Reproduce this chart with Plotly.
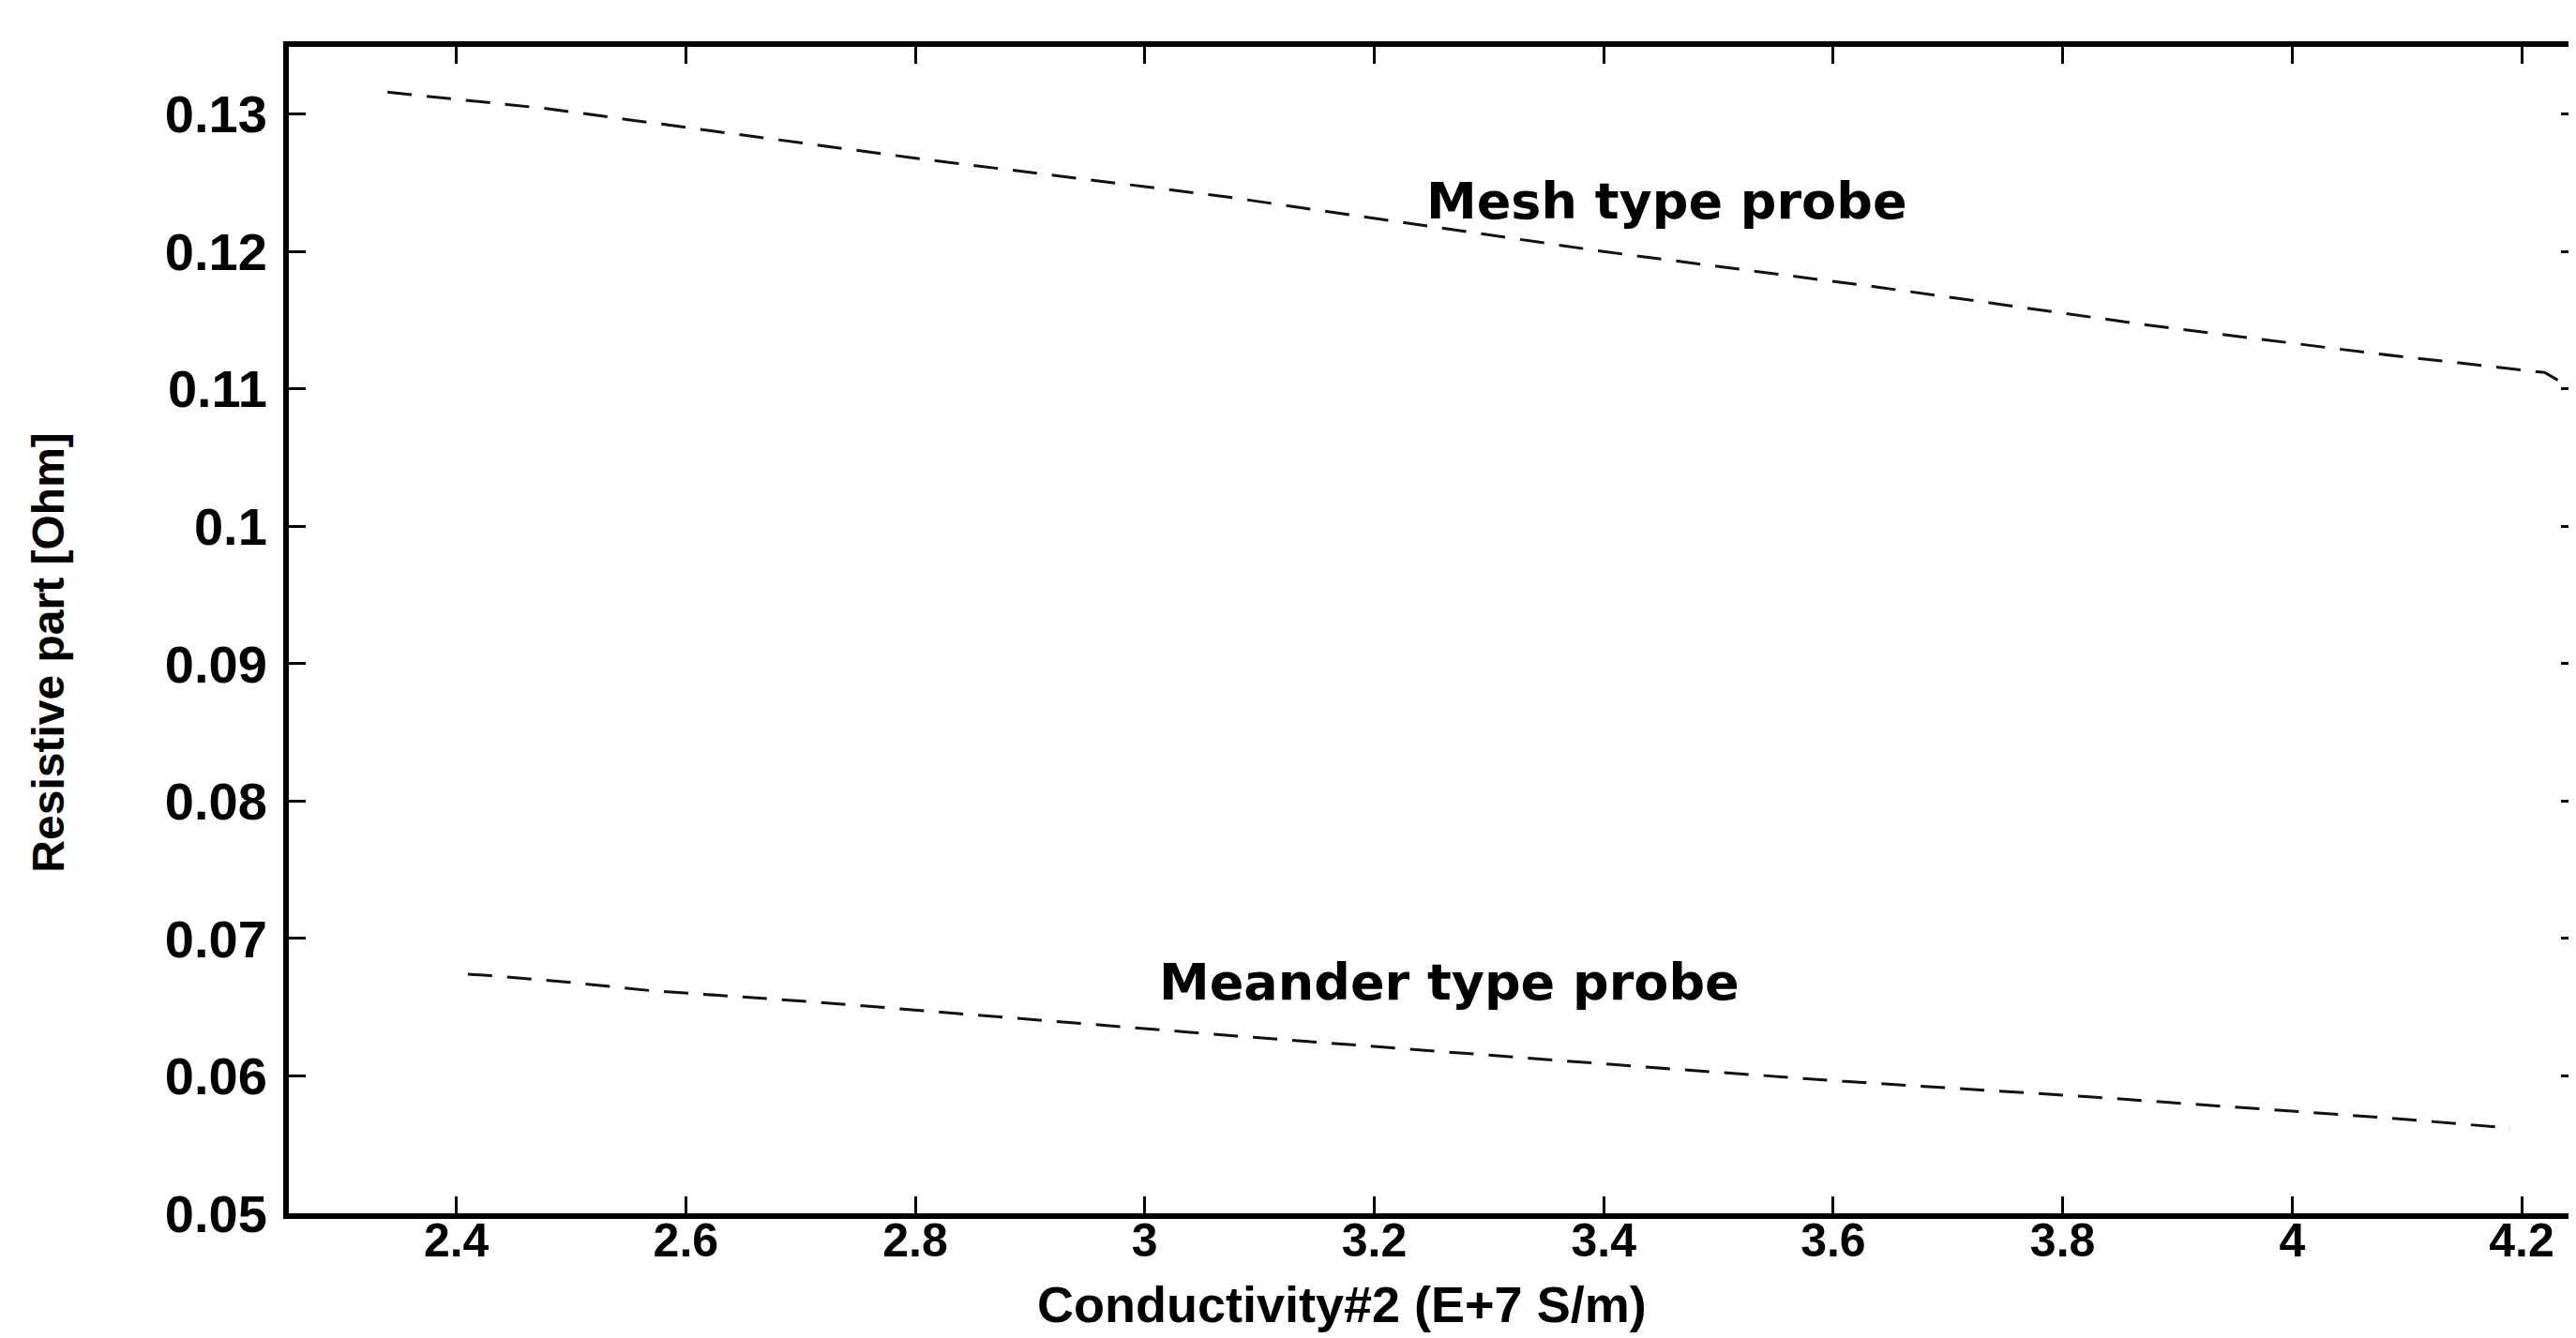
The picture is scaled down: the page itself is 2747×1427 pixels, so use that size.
import plotly.graph_objects as go

# Data (values relative to the axis ticks)
mesh_conductivity = [2.34, 2.40, 2.48, 2.55, 2.80, 3.07, 3.40, 3.64, 3.87, 4.07, 4.22, 4.245]
mesh_resistive = [0.1316, 0.1311, 0.1304, 0.1296, 0.1268, 0.1240, 0.1200, 0.1174, 0.1147, 0.1126, 0.1112, 0.1100]

meander_conductivity = [2.41, 2.43, 2.50, 2.57, 2.71, 3.08, 3.46, 3.61, 3.82, 3.94, 4.09, 4.19]
meander_resistive = [0.0674, 0.0673, 0.0668, 0.0662, 0.0654, 0.0629, 0.0605, 0.0596, 0.0585, 0.0578, 0.0569, 0.0562]

x_ticks = [2.4, 2.6, 2.8, 3.0, 3.2, 3.4, 3.6, 3.8, 4.0, 4.2]
x_tick_labels = ["2.4", "2.6", "2.8", "3", "3.2", "3.4", "3.6", "3.8", "4", "4.2"]
y_ticks = [0.05, 0.06, 0.07, 0.08, 0.09, 0.10, 0.11, 0.12, 0.13]
y_tick_labels = ["0.05", "0.06", "0.07", "0.08", "0.09", "0.1", "0.11", "0.12", "0.13"]

series_labels = ["Mesh type probe", "Meander type probe"]
label_positions_x = [3.455, 3.265]
label_positions_y = [0.1237, 0.0668]

x_title = "Conductivity#2 (E+7 S/m)"
y_title = "Resistive part [Ohm]"

AX_FONT = "Liberation Sans"
LBL_FONT = "DejaVu Sans"

fig = go.Figure()
fig.add_trace(go.Scatter(
    x=mesh_conductivity, y=mesh_resistive, mode="lines",
    line=dict(color="#111111", width=3, dash="26px,16px"),
    name=series_labels[0], showlegend=False))
fig.add_trace(go.Scatter(
    x=meander_conductivity, y=meander_resistive, mode="lines",
    line=dict(color="#111111", width=3, dash="26px,16px"),
    name=series_labels[1], showlegend=False))

for txt, lx, ly in zip(series_labels, label_positions_x, label_positions_y):
    fig.add_annotation(x=lx, y=ly, xref="x", yref="y", text=txt, showarrow=False,
                       font=dict(family=LBL_FONT, size=54, color="black", weight="bold"))

# axis titles as annotations placed where the reference has them (pixel anchors)
fig.add_annotation(x=1426, y=1427 - 1383, xref="paper", yref="paper", text=x_title,
                   showarrow=False, xanchor="center", yanchor="middle",
                   font=dict(family=AX_FONT, size=54, color="black", weight="bold"))
fig.add_annotation(x=42, y=1427 - 688, xref="paper", yref="paper", text=y_title,
                   textangle=-90, showarrow=False, xanchor="center", yanchor="middle",
                   font=dict(family=AX_FONT, size=48, color="black", weight="bold"))

axis_common = dict(
    showline=True, linecolor="black", linewidth=6, mirror="ticks",
    ticks="inside", ticklen=18, tickwidth=3, tickcolor="black",
    showgrid=False, zeroline=False,
)

fig.update_xaxes(range=[2.254, 4.249], tickvals=x_ticks, ticktext=x_tick_labels,
                 ticklabelstandoff=-20,
                 tickfont=dict(family=AX_FONT, size=50, color="black", weight="bold"),
                 **axis_common)
fig.update_yaxes(range=[0.05, 0.1349], tickvals=y_ticks, ticktext=y_tick_labels,
                 ticklabelstandoff=6,
                 tickfont=dict(family=AX_FONT, size=56, color="black", weight="bold"),
                 **axis_common)

L, R, T, B = 300, 0, 42, 141
W, H = 2747, 1427
fig.update_layout(
    width=W, height=H,
    margin=dict(l=L, r=R, t=T, b=B),
    paper_bgcolor="white", plot_bgcolor="white",
    font=dict(family=AX_FONT, color="black"),
)

# convert pixel anchors of the title annotations to paper coordinates
pw, ph = W - L - R, H - T - B
for ann in fig.layout.annotations:
    if ann.xref == "paper":
        ann.x = (ann.x - L) / pw
        ann.y = (ann.y - B) / ph

fig.write_html("out.html")
